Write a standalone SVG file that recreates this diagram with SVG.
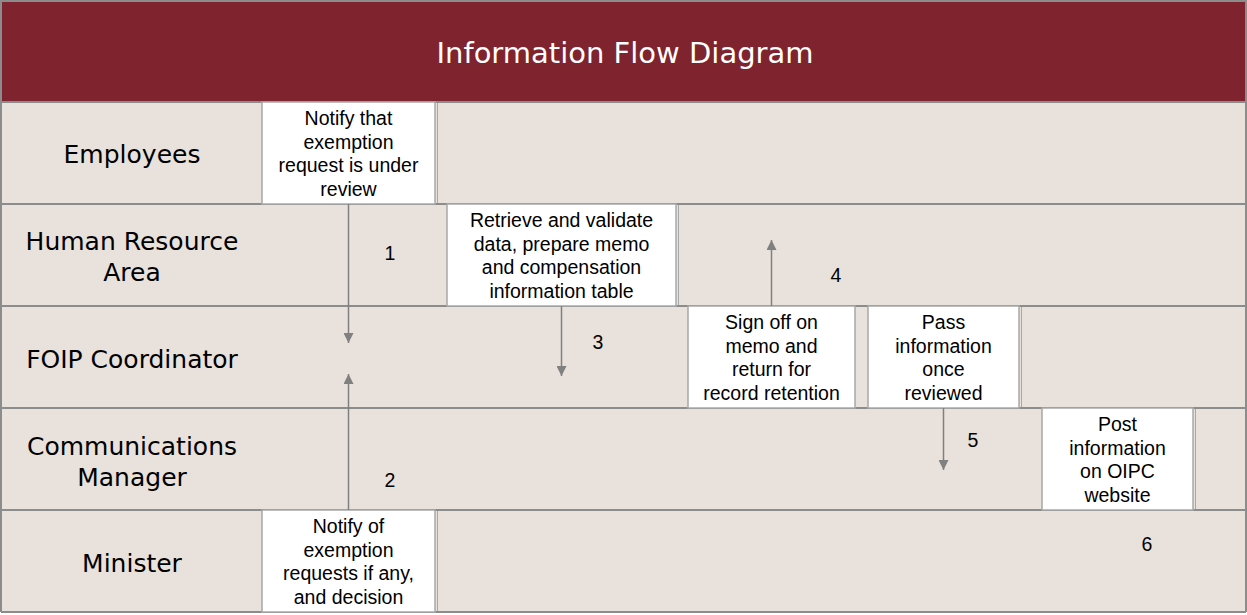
<svg xmlns="http://www.w3.org/2000/svg" width="1247" height="615" viewBox="0 0 1247 615">
<defs>
<marker id="arr" viewBox="0 0 10 10" refX="10" refY="5" markerWidth="10" markerHeight="10" markerUnits="userSpaceOnUse" orient="auto">
<path d="M0,0 L10,5 L0,10 Z" fill="#808080"/>
</marker>
</defs>
<style>
.lane{fill:#E8E1DC;}
.rowline{stroke:#8c8c8c;stroke-width:2;fill:none;}
.cellline{stroke:#a8a8a8;stroke-width:1;fill:none;}
.box rect{fill:#ffffff;stroke:#a8a8a8;stroke-width:1.5;}
.box text{font-family:"Liberation Sans",Arial,sans-serif;font-size:19.5px;fill:#000;text-anchor:middle;}
.lbl text{font-family:"DejaVu Sans",Verdana,sans-serif;font-size:25px;fill:#000;text-anchor:middle;}
.num{font-family:"Liberation Sans",Arial,sans-serif;font-size:19.5px;fill:#000;text-anchor:middle;}
.conn{stroke:#808080;stroke-width:1.5;fill:none;marker-end:url(#arr);}
</style>
<rect x="0" y="0" width="1247" height="615" fill="#ffffff"/>
<g id="header">
<rect x="1" y="1" width="1245" height="101" fill="#7F232E" stroke="#8c8c8c" stroke-width="2"/>
<text x="625" y="63" font-family="'DejaVu Sans',Verdana,sans-serif" font-size="29" fill="#ffffff" text-anchor="middle">Information Flow Diagram</text>
</g>
<g id="lanes">
<rect class="lane" x="1" y="102" width="1245" height="510"/>
<line class="rowline" x1="1" y1="102" x2="1246" y2="102"/>
<line class="rowline" x1="1" y1="204" x2="1246" y2="204"/>
<line class="rowline" x1="1" y1="306" x2="1246" y2="306"/>
<line class="rowline" x1="1" y1="408" x2="1246" y2="408"/>
<line class="rowline" x1="1" y1="510" x2="1246" y2="510"/>
<line class="rowline" x1="1" y1="612" x2="1246" y2="612"/>
<line class="rowline" x1="1" y1="102" x2="1" y2="612"/>
<line class="rowline" x1="1246" y1="102" x2="1246" y2="612"/>
<line class="cellline" x1="437.5" y1="103" x2="437.5" y2="203"/>
<line class="cellline" x1="437.5" y1="511" x2="437.5" y2="611"/>
<line class="cellline" x1="678.5" y1="205" x2="678.5" y2="305"/>
<line class="cellline" x1="1021.5" y1="307" x2="1021.5" y2="407"/>
<line class="cellline" x1="1195.5" y1="409" x2="1195.5" y2="509"/>
</g>
<g id="lane-employees" class="lbl"><text x="132" y="163">Employees</text></g>
<g id="lane-hr" class="lbl"><text x="132" y="250">Human Resource</text><text x="132" y="281">Area</text></g>
<g id="lane-foip" class="lbl"><text x="132" y="368">FOIP Coordinator</text></g>
<g id="lane-comms" class="lbl"><text x="132" y="455">Communications</text><text x="132" y="486">Manager</text></g>
<g id="lane-minister" class="lbl"><text x="132" y="572">Minister</text></g>
<g id="box-notify-employees" class="box">
<rect x="262" y="102" width="173" height="102"/>
<text x="348.5" y="125">Notify that</text><text x="348.5" y="148.5">exemption</text><text x="348.5" y="172">request is under</text><text x="348.5" y="195.5">review</text>
</g>
<g id="box-retrieve" class="box">
<rect x="447" y="204" width="229" height="102"/>
<text x="561.5" y="227">Retrieve and validate</text><text x="561.5" y="250.5">data, prepare memo</text><text x="561.5" y="274">and compensation</text><text x="561.5" y="297.5">information table</text>
</g>
<g id="box-signoff" class="box">
<rect x="688" y="306" width="167" height="102"/>
<text x="771.5" y="329">Sign off on</text><text x="771.5" y="352.5">memo and</text><text x="771.5" y="376">return for</text><text x="771.5" y="399.5">record retention</text>
</g>
<g id="box-pass" class="box">
<rect x="868" y="306" width="151" height="102"/>
<text x="943.5" y="329">Pass</text><text x="943.5" y="352.5">information</text><text x="943.5" y="376">once</text><text x="943.5" y="399.5">reviewed</text>
</g>
<g id="box-post" class="box">
<rect x="1042" y="408" width="151" height="102"/>
<text x="1117.5" y="431">Post</text><text x="1117.5" y="454.5">information</text><text x="1117.5" y="478">on OIPC</text><text x="1117.5" y="501.5">website</text>
</g>
<g id="box-notify-minister" class="box">
<rect x="262" y="510" width="173" height="102"/>
<text x="348.5" y="533">Notify of</text><text x="348.5" y="556.5">exemption</text><text x="348.5" y="580">requests if any,</text><text x="348.5" y="603.5">and decision</text>
</g>
<g id="connectors">
<line class="conn" x1="348.5" y1="204" x2="348.5" y2="343"/>
<line class="conn" x1="348.5" y1="510" x2="348.5" y2="374"/>
<line class="conn" x1="561.5" y1="306" x2="561.5" y2="376"/>
<line class="conn" x1="771.5" y1="306" x2="771.5" y2="240"/>
<line class="conn" x1="943.5" y1="408" x2="943.5" y2="470"/>
<text class="num" x="390" y="260">1</text>
<text class="num" x="390" y="487">2</text>
<text class="num" x="598" y="349">3</text>
<text class="num" x="836" y="282">4</text>
<text class="num" x="973" y="447">5</text>
<text class="num" x="1147" y="551">6</text>
</g>
</svg>
